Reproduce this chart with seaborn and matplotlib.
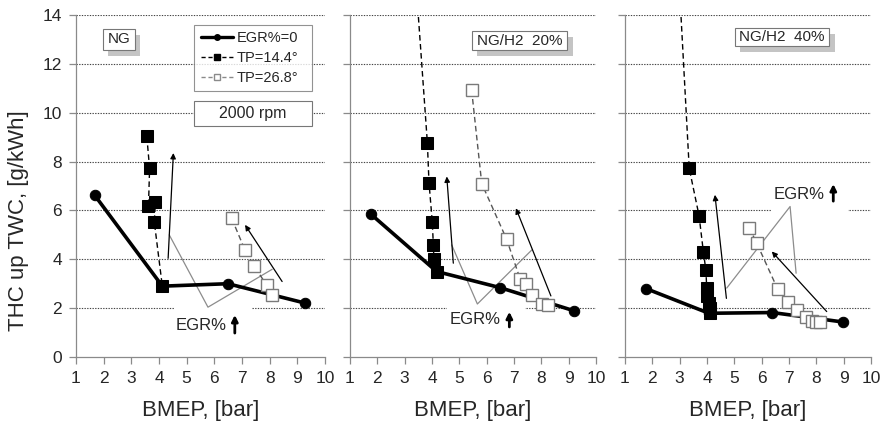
import matplotlib
matplotlib.use("Agg")
import matplotlib.pyplot as plt
import seaborn as sns
from matplotlib.lines import Line2D
from matplotlib.patches import Rectangle

# ---------------- data ----------------
panel_titles = ["NG", "NG/H2  20%", "NG/H2  40%"]
x_ticks = [1, 2, 3, 4, 5, 6, 7, 8, 9, 10]
y_ticks = [0, 2, 4, 6, 8, 10, 12, 14]

# EGR%=0
egr0_x_ng = [1.67, 4.12, 6.49, 9.27]
egr0_y_ng = [6.63, 2.90, 3.00, 2.21]
egr0_x_h20 = [1.76, 4.17, 6.49, 9.20]
egr0_y_h20 = [5.85, 3.50, 2.84, 1.89]
egr0_x_h40 = [1.77, 4.07, 6.39, 8.99]
egr0_y_h40 = [2.80, 1.79, 1.82, 1.43]

# TP=14.4 deg
tp14_x_ng = [3.56, 3.66, 3.62, 3.87, 3.83, 4.12]
tp14_y_ng = [9.03, 7.72, 6.19, 6.33, 5.53, 2.90]
tp14_x_h20 = [3.37, 3.83, 3.89, 4.01, 4.05, 4.07, 4.20]
tp14_y_h20 = [16.0, 8.78, 7.14, 5.53, 4.58, 4.00, 3.50]
tp14_x_h40 = [2.95, 3.35, 3.71, 3.87, 3.96, 3.99, 4.01, 4.07, 4.11, 4.11]
tp14_y_h40 = [16.0, 7.72, 5.78, 4.28, 3.55, 2.81, 2.50, 2.23, 2.02, 1.79]

# TP=26.8 deg
tp26_x_ng = [6.63, 7.11, 7.44, 7.89, 8.10]
tp26_y_ng = [5.67, 4.37, 3.73, 2.94, 2.53]
tp26_x_h20 = [5.45, 5.82, 6.73, 7.22, 7.44, 7.66, 8.04, 8.23]
tp26_y_h20 = [10.93, 7.10, 4.82, 3.21, 2.98, 2.53, 2.19, 2.12]
tp26_x_h40 = [5.54, 5.82, 6.59, 6.98, 7.30, 7.62, 7.83, 7.99, 8.13]
tp26_y_h40 = [5.30, 4.66, 2.77, 2.25, 1.91, 1.64, 1.48, 1.45, 1.45]

legend_labels = ["EGR%=0", "TP=14.4°", "TP=26.8°"]
rpm_label = "2000 rpm"
egr_label = "EGR%"
x_label = "BMEP, [bar]"
y_label = "THC up TWC, [g/kWh]"

series = [
    (egr0_x_ng, egr0_y_ng, tp14_x_ng, tp14_y_ng, tp26_x_ng, tp26_y_ng),
    (egr0_x_h20, egr0_y_h20, tp14_x_h20, tp14_y_h20, tp26_x_h20, tp26_y_h20),
    (egr0_x_h40, egr0_y_h40, tp14_x_h40, tp14_y_h40, tp26_x_h40, tp26_y_h40),
]

# ---------------- style ----------------
sns.set_style("white")
plt.rcParams["font.family"] = ["Liberation Sans", "DejaVu Sans"]

fig = plt.figure(figsize=(8.87, 4.29), dpi=100)
W, H = 887, 429
lefts = [76, 350, 625]
widths = [249, 246, 246]
top_px, bot_px = 15, 357

# annotation layout per panel
tags = [(1.97, 3.12, 12.58, 13.43), (5.45, 8.95, 12.55, 13.33), (5.02, 8.47, 12.72, 13.47)]
tag_sizes = [11, 11, 11]
egr_text = [(4.61, 1.27), (4.66, 1.52), (6.44, 6.64)]
egr_arrow = [(6.74, 0.98, 1.72), (6.83, 1.23, 1.85), (8.62, 6.38, 7.08)]
egr_white = [(4.55, 7.35, 0.75, 2.15), (4.54, 7.40, 0.95, 2.15), (6.37, 9.16, 5.92, 7.35)]
grey_v = [
    ([4.37, 5.77, 8.09], [5.00, 2.04, 3.59]),
    ([4.72, 5.66, 7.65], [4.59, 2.17, 4.38]),
    ([4.72, 7.04, 7.26], [2.82, 6.16, 3.43]),
]
black_arrows = [
    [((4.33, 4.04), (4.52, 8.35)), ((8.45, 3.09), (7.11, 5.41))],
    [((4.78, 3.84), (4.54, 7.39)), ((8.35, 2.50), (7.07, 6.09))],
    [((4.71, 2.40), (4.29, 6.64)), ((8.38, 1.86), (6.37, 4.32))],
]

axes = []
for i in range(3):
    ax = fig.add_axes([lefts[i] / W, 1 - bot_px / H, widths[i] / W, (bot_px - top_px) / H])
    axes.append(ax)
    ex, ey, bx, by, ox, oy = series[i]

    ax.set_xlim(1, 10)
    ax.set_ylim(0, 14)
    ax.set_xticks(x_ticks)
    ax.set_yticks(y_ticks)
    for yv in y_ticks[1:]:
        ax.axhline(yv, color="#444444", lw=0.8, ls=(0, (1.2, 1.2)), zorder=0.5)

    # white boxes behind EGR labels
    wx0, wx1, wy0, wy1 = egr_white[i]
    ax.add_patch(Rectangle((wx0, wy0), wx1 - wx0, wy1 - wy0, facecolor="white",
                           edgecolor="none", zorder=0.8))

    # grey callout V
    gx, gy = grey_v[i]
    ax.plot(gx, gy, color="#8c8c8c", lw=0.9, zorder=1)

    # black arrows
    for tail, head in black_arrows[i]:
        ax.annotate("", xy=head, xytext=tail,
                    arrowprops=dict(arrowstyle="-|>", color="black", lw=0.9,
                                    mutation_scale=8, shrinkA=0, shrinkB=0),
                    zorder=1.2)

    # data
    sns.lineplot(x=ex, y=ey, ax=ax, sort=False, estimator=None, color="black",
                 lw=2.6, marker="o", markersize=7.5, markeredgecolor="black", zorder=3)
    sns.lineplot(x=bx, y=by, ax=ax, sort=False, estimator=None, color="black",
                 lw=1.0, linestyle=(0, (4, 2.5)), marker="s", markersize=8,
                 markeredgecolor="black", zorder=4)
    sns.lineplot(x=ox, y=oy, ax=ax, sort=False, estimator=None, color="#555555",
                 lw=1.0, linestyle=(0, (4, 2.5)), marker="s", markersize=8,
                 markerfacecolor="white", markeredgecolor="#7a7a7a",
                 markeredgewidth=1.0, zorder=5)

    # EGR% label + arrow
    tx, ty = egr_text[i]
    ax.text(tx, ty, egr_label, fontsize=12, ha="left", va="center", zorder=6)
    axx, ay0, ay1 = egr_arrow[i]
    ax.annotate("", xy=(axx, ay1), xytext=(axx, ay0),
                arrowprops=dict(arrowstyle="-|>", color="black", lw=2.0,
                                mutation_scale=9, shrinkA=0, shrinkB=0), zorder=6)

    # title tag with shadow
    x0, x1, y0, y1 = tags[i]
    ax.add_patch(Rectangle((x0 + 0.2, y0 - 0.24), x1 - x0, y1 - y0, facecolor="#c4c4c4",
                           edgecolor="none", zorder=6))
    ax.add_patch(Rectangle((x0, y0), x1 - x0, y1 - y0, facecolor="white",
                           edgecolor="#777777", lw=0.8, zorder=7))
    ax.text((x0 + x1) / 2, (y0 + y1) / 2, panel_titles[i], fontsize=tag_sizes[i],
            ha="center", va="center", zorder=8)

    # spines and ticks
    for s in ["top", "right"]:
        ax.spines[s].set_visible(False)
    for s in ["left", "bottom"]:
        ax.spines[s].set_color("#8a8a8a")
        ax.spines[s].set_linewidth(0.9)
    ax.tick_params(axis="both", which="major", direction="out", length=5, width=0.9,
                   color="#8a8a8a", labelsize=12.5, pad=5, left=True, bottom=True)
    if i > 0:
        ax.set_yticklabels([])
    ax.set_xlabel(x_label, fontsize=16)
    ax.xaxis.set_label_coords(0.5, -0.125)
    ax.xaxis.label.set_va("top")
    ax.set_ylabel("")
    if ax.get_legend():
        ax.get_legend().remove()

axes[0].set_ylabel(y_label, fontsize=16)
axes[0].yaxis.set_label_coords(-0.19, 0.40)

# legend box and rpm box in first panel
ax = axes[0]
handles = [
    Line2D([], [], color="black", lw=2.4, marker="o", markersize=4),
    Line2D([], [], color="black", lw=1.0, ls=(0, (3, 2)), marker="s", markersize=5),
    Line2D([], [], color="#8a8a8a", lw=1.0, ls=(0, (3, 2)), marker="s", markersize=5,
           markerfacecolor="white", markeredgecolor="#8a8a8a"),
]
leg = ax.legend(handles, legend_labels, loc="upper left",
                bbox_to_anchor=(0.4756, 0.9714, 0.4722, 0.0), mode="expand",
                fontsize=10.5, frameon=True, fancybox=False, handlelength=2.2,
                handletextpad=0.3, labelspacing=0.42, borderpad=0.42, borderaxespad=0)
leg.get_frame().set_edgecolor("#777777")
leg.get_frame().set_linewidth(0.8)
leg.set_zorder(9)

ax.add_patch(Rectangle((5.28, 9.47), 4.25, 1.02, facecolor="white",
                       edgecolor="#777777", lw=0.8, zorder=7))
ax.text(7.40, 9.98, rpm_label, fontsize=11.5, ha="center", va="center", zorder=8)

fig.savefig("out.png", dpi=100, facecolor="white")
